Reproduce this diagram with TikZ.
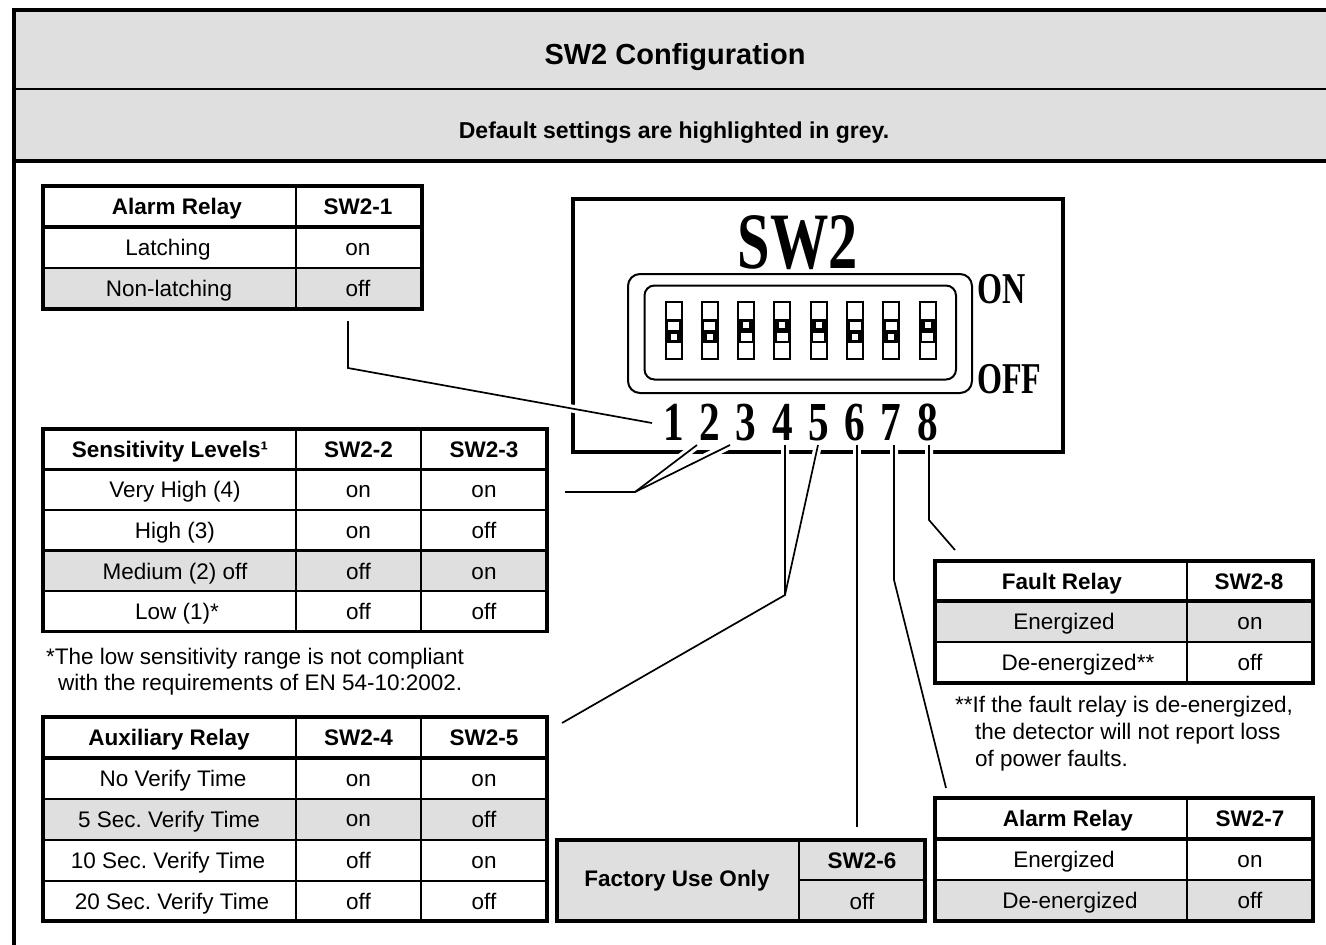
\documentclass[tikz,border=0pt]{standalone}
\usepackage{graphicx}
\usepackage{fontspec}
\setmainfont{Liberation Sans}
\newfontfamily\dipfont{Liberation Serif}
\definecolor{cellgray}{HTML}{DFDFDF}
\frenchspacing
\tikzset{
  body/.style={inner sep=0pt, text height=16.1pt, text depth=0pt, font=\fontsize{22.5}{27}\selectfont},
  head/.style={body, font=\fontsize{22.5}{27}\selectfont\bfseries},
  note/.style={body, anchor=west},
  outerrule/.style={line width=3.8pt},
  hrule/.style={line width=3.8pt},
  inrule/.style={line width=2.4pt},
  conn/.style={line width=1.7pt, line join=miter},
  halo/.style={white, line width=8pt},
  dig/.style={inner sep=0pt, anchor=base, font=\dipfont\bfseries\fontsize{55}{60}\selectfont},
  big/.style={inner sep=0pt, anchor=base, font=\dipfont\bfseries\fontsize{80}{90}\selectfont},
  onoff/.style={inner sep=0pt, anchor=base west, font=\dipfont\bfseries\fontsize{44}{50}\selectfont},
}
\newcommand\myconns[1]{%
  \draw[#1] (c1a) -- (c1b) -- (c1c);
  \draw[#1] (c23e) -- (c23) -- (c2a);
  \draw[#1] (c23) -- (c3a);
  \draw[#1] (c4a) -- (c45) -- (c45e);
  \draw[#1] (c5a) -- (c45);
  \draw[#1] (c6a) -- (c6e);
  \draw[#1] (c7a) -- (c7b) -- (c7e);
  \draw[#1] (c8a) -- (c8b) -- (c8e);
}
\begin{document}
\begin{tikzpicture}[x=1pt,y=-1pt]
\useasboundingbox (0,0) rectangle (1326,945);
\clip (0,0) rectangle (1326,945);
\fill[white] (0,0) rectangle (1326,945);
% header bands
\fill[cellgray] (14,10) rectangle (1340,161);
\draw[line width=2.2pt] (14,89) -- (1340,89);
\draw[line width=4pt] (14,161) -- (1340,161);
\draw[line width=4pt] (1340,10) -- (14,10) -- (14,960);
\node[inner sep=0pt, text height=20.8pt, text depth=0pt, font=\fontsize{29}{34}\selectfont\bfseries] (title) at (675,54) {SW2 Configuration};
\node[inner sep=0pt, text height=16.5pt, text depth=0pt, font=\fontsize{23}{28}\selectfont\bfseries] (subtitle) at (674,130.5) {Default settings are highlighted in grey.};

% ---- Table SW2-1
\fill[cellgray] (43,268) rectangle (422,309);
\draw[inrule] (296,186) -- (296,309);
\draw[inrule] (43,268) -- (422,268);
\draw[hrule] (43,227) -- (422,227);
\draw[outerrule] (43,186) rectangle (422,309);
\node[head] (a1h) at (177,206.5) {Alarm Relay};
\node[head] (a2h) at (358,206.5) {SW2-1};
\node[body] (a11) at (168,247.5) {Latching};
\node[body] (a12) at (358,247.5) {on};
\node[body] (a21) at (169,288.5) {Non-latching};
\node[body] (a22) at (358,288.5) {off};

% ---- Table Sensitivity
\fill[cellgray] (43,550.5) rectangle (547,591);
\draw[inrule] (296,429) -- (296,631.5) (421,429) -- (421,631.5);
\draw[inrule] (43,510) -- (547,510) (43,550.5) -- (547,550.5) (43,591) -- (547,591);
\draw[hrule] (43,469.5) -- (547,469.5);
\draw[outerrule] (43,429) rectangle (547,631.5);
\node[head] (sh1) at (170,449) {Sensitivity Levels¹};
\node[head] (sh2) at (358.5,449) {SW2-2};
\node[head] (sh3) at (484,449) {SW2-3};
\node[body] (s11) at (175,489.5) {Very High (4)};
\node[body] (s12) at (358.5,489.5) {on};
\node[body] (s13) at (484,489.5) {on};
\node[body] (s21) at (175,530.5) {High (3)};
\node[body] (s22) at (358.5,530.5) {on};
\node[body] (s23) at (484,530.5) {off};
\node[body] (s31) at (175,571) {Medium (2) off};
\node[body] (s32) at (358.5,571) {off};
\node[body] (s33) at (484,571) {on};
\node[body] (s41) at (177,611.5) {Low (1)*};
\node[body] (s42) at (358.5,611.5) {off};
\node[body] (s43) at (484,611.5) {off};
\node[note] (sn1) at (46,656) {*The low sensitivity range is not compliant};
\node[note] (sn2) at (58,682) {with the requirements of EN 54-10:2002.};

% ---- Table Auxiliary
\fill[cellgray] (43,799) rectangle (547,840);
\draw[inrule] (296,717) -- (296,921) (421,717) -- (421,921);
\draw[inrule] (43,799) -- (547,799) (43,840) -- (547,840) (43,881) -- (547,881);
\draw[hrule] (43,758) -- (547,758);
\draw[outerrule] (43,717) rectangle (547,921);
\node[head] (xh1) at (169,737.5) {Auxiliary Relay};
\node[head] (xh2) at (358.5,737.5) {SW2-4};
\node[head] (xh3) at (484,737.5) {SW2-5};
\node[body] (x11) at (173,778.5) {No Verify Time};
\node[body] (x12) at (358.5,778.5) {on};
\node[body] (x13) at (484,778.5) {on};
\node[body] (x21) at (169,819.5) {5 Sec. Verify Time};
\node[body] (x22) at (358.5,818) {on};
\node[body] (x23) at (484,819.5) {off};
\node[body] (x31) at (168,860.5) {10 Sec. Verify Time};
\node[body] (x32) at (358.5,860.5) {off};
\node[body] (x33) at (484,860.5) {on};
\node[body] (x41) at (172,901) {20 Sec. Verify Time};
\node[body] (x42) at (358.5,901) {off};
\node[body] (x43) at (484,901) {off};

% ---- Table Factory
\fill[cellgray] (557,840) rectangle (925,921);
\draw[inrule] (799,840) -- (799,921);
\draw[inrule] (799,880) -- (925,880);
\draw[outerrule] (557,840) rectangle (925,921);
\node[head] (f1) at (677,878) {Factory Use Only};
\node[head] (f2) at (862,860) {SW2-6};
\node[body] (f3) at (862,901) {off};

% ---- Table Fault Relay SW2-8
\fill[cellgray] (935,601) rectangle (1313,642);
\draw[inrule] (1187,561) -- (1187,683);
\draw[inrule] (935,642) -- (1313,642);
\draw[hrule] (935,601) -- (1313,601);
\draw[outerrule] (935,561) rectangle (1313,683);
\node[head] (eh1) at (1062,581) {Fault Relay};
\node[head] (eh2) at (1249,581) {SW2-8};
\node[body] (e11) at (1064,621.5) {Energized};
\node[body] (e12) at (1250,621.5) {on};
\node[body] (e21) at (1078,662.5) {De-energized**};
\node[body] (e22) at (1250,662.5) {off};
\node[note] (en1) at (955,704) {**If the fault relay is de-energized,};
\node[note] (en2) at (975,731.5) {the detector will not report loss};
\node[note] (en3) at (975,758.5) {of power faults.};

% ---- Table Alarm Relay SW2-7
\fill[cellgray] (935,880) rectangle (1313,921);
\draw[inrule] (1187,798) -- (1187,921);
\draw[inrule] (935,880) -- (1313,880);
\draw[hrule] (935,839) -- (1313,839);
\draw[outerrule] (935,798) rectangle (1313,921);
\node[head] (gh1) at (1068,818.5) {Alarm Relay};
\node[head] (gh2) at (1250,818.5) {SW2-7};
\node[body] (g11) at (1064,859.5) {Energized};
\node[body] (g12) at (1250,859.5) {on};
\node[body] (g21) at (1070,900.5) {De-energized};
\node[body] (g22) at (1250,900.5) {off};

% ---- SW2 switch block
\draw[line width=3.6pt] (573,199) rectangle (1063,452);
\node[big] (sw) at (798,268) {\scalebox{0.73}[1]{SW2}};
\draw[line width=2pt, rounded corners=12pt] (628,274) rectangle (972,393);
\draw[line width=2pt, rounded corners=10pt] (644.5,285.5) rectangle (956,379.5);
\node[onoff] (on) at (977,303) {\scalebox{0.73}[1]{ON}};
\node[onoff] (off) at (977,393) {\scalebox{0.73}[1]{OFF}};
\foreach \i/\s in {1/0,2/0,3/1,4/1,5/1,6/0,7/0,8/1}{
  \pgfmathsetmacro\x{673.5+36.3*(\i-1)}
  \fill[black] ({\x-8.5},319) rectangle ({\x+8.5},343);
  \draw[line width=2pt] ({\x-8},302) rectangle ({\x+8},359);
  \ifnum\s=0
    \fill[white] ({\x-5.5},321.5) rectangle ({\x+5.5},329.5);
    \fill[white] ({\x-3},333.5) rectangle ({\x+3},339.5);
  \else
    \fill[white] ({\x-3},322) rectangle ({\x+3},328);
    \fill[white] ({\x-5.5},332.5) rectangle ({\x+5.5},340.5);
  \fi
  \node[dig] (d\i) at (\x,440) {\scalebox{0.75}[1]{\i}};
}

% ---- connector points
\coordinate (c1a) at (348,321);
\coordinate (c1b) at (348,368);
\coordinate (c1c) at (652,423);
\coordinate (c2a) at (697,445);
\coordinate (c3a) at (730,445);
\coordinate (c23) at (635,492);
\coordinate (c23e) at (565,492);
\coordinate (c4a) at (785,445);
\coordinate (c5a) at (818,445);
\coordinate (c45) at (785,595);
\coordinate (c45e) at (562,723);
\coordinate (c6a) at (857,445);
\coordinate (c6e) at (857,827);
\coordinate (c7a) at (894,445);
\coordinate (c7b) at (894,580);
\coordinate (c7e) at (946,788);
\coordinate (c8a) at (929,445);
\coordinate (c8b) at (929,520);
\coordinate (c8e) at (955,550);
\myconns{halo}
\myconns{conn}
\end{tikzpicture}
\end{document}
